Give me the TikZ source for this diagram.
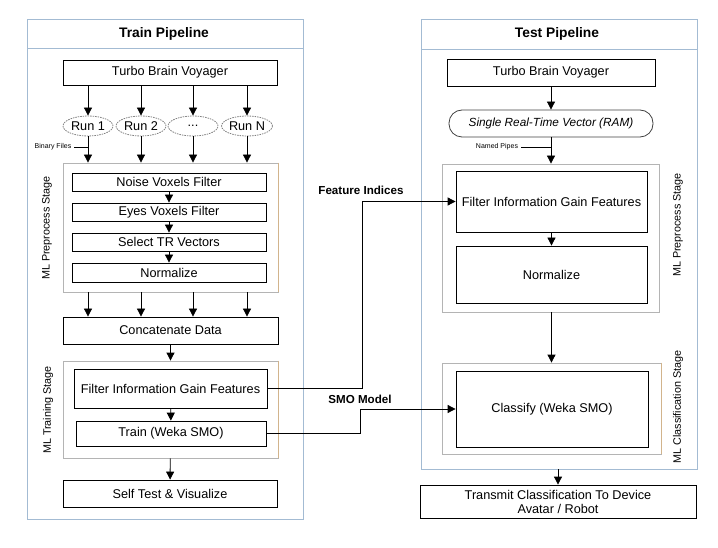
\documentclass[tikz,border=0pt]{standalone}
\usepackage{fontspec}
\setmainfont{Liberation Sans}
\usetikzlibrary{positioning,arrows.meta,shapes.geometric}
\definecolor{panelc}{HTML}{A3BBD3}
\definecolor{stagec}{HTML}{B4B4B4}
\definecolor{tanc}{HTML}{D2B48C}

\begin{document}
\begin{tikzpicture}[x=1pt,y=-1pt,
  panel/.style={draw=panelc,line width=0.8pt,minimum width=276pt,inner sep=0pt},
  stage/.style={draw=stagec,line width=0.8pt,inner sep=0pt},
  box/.style={draw,line width=0.8pt,inner sep=0pt,align=center,font=\fontsize{12.7}{14}\selectfont},
  run/.style={ellipse,draw=gray,dash pattern=on 1.5pt off 1pt,line width=0.8pt,minimum width=50pt,minimum height=20pt,inner sep=0pt,font=\fontsize{12.7}{14}\selectfont},
  title/.style={font=\bfseries\fontsize{13.8}{15}\selectfont},
  lbl/.style={font=\bfseries\fontsize{11.6}{13}\selectfont},
  tiny/.style={font=\fontsize{7}{8}\selectfont,inner sep=1pt},
  stlbl/.style={rotate=90,font=\fontsize{10.8}{12}\selectfont},
  arr/.style={-{Triangle[width=8pt,length=8pt]},line width=0.8pt}]
  \useasboundingbox (0,0) rectangle (718,548);
  % panels
  \node[panel,minimum height=500pt] (trainp) at (165,269) {};
  \node[panel,minimum height=450pt] (testp) at (559,244) {};
  \draw[panelc,line width=0.8pt] (27,48) -- (303,48);
  \draw[panelc,line width=0.8pt] (421,49) -- (697,49);
  \node[title] (traint) at (164,34) {Train Pipeline};
  \node[title] (testt) at (557,34) {Test Pipeline};
  % train pipeline
  \node[box,minimum width=214pt,minimum height=25pt] (tbv) at (170,72.5) {Turbo Brain Voyager};
  \node[run] (run1) at (88,126) {Run 1};
  \node[run] (run2) at (141,126) {Run 2};
  \node[run] (run3) at (193,126) {...};
  \node[run] (run4) at (247,126) {Run N};
  \node[stage,minimum width=215pt,minimum height=129pt] (prep) at (170.5,227.5) {};
  \draw[tanc,line width=0.8pt] (prep.north east) -- (prep.south east);
  \node[box,minimum width=194pt,minimum height=18pt] (noise) at (169,182) {Noise Voxels Filter};
  \node[box,minimum width=194pt,minimum height=18pt] (eyes) at (169,212) {Eyes Voxels Filter};
  \node[box,minimum width=194pt,minimum height=18pt] (sel) at (169,242) {Select TR Vectors};
  \node[box,minimum width=194pt,minimum height=19pt] (norm) at (169,272.5) {Normalize};
  \node[stlbl] (prepl) at (47,228) {ML Preprocess Stage};
  \node[box,minimum width=215pt,minimum height=27pt] (concat) at (170.5,330.5) {Concatenate Data};
  \node[stage,minimum width=215pt,minimum height=97pt] (trainst) at (170.5,409.5) {};
  \draw[tanc,line width=0.8pt] (trainst.north east) -- (trainst.south east);
  \node[box,minimum width=193pt,minimum height=39pt] (filt) at (170.5,388.5) {Filter Information Gain Features};
  \node[box,minimum width=190pt,minimum height=25pt] (train) at (171,433.5) {Train (Weka SMO)};
  \node[stlbl] (trainl) at (48,410) {ML Training Stage};
  \node[box,minimum width=214pt,minimum height=27pt] (self) at (170,493.5) {Self Test \& Visualize};
  \node[tiny] (binf) at (53,147) {Binary Files};
  \draw[line width=0.6pt] (binf.east) ++(2pt,0) -- (binf.east -| run1);
  \foreach \r in {run1,run2,run3,run4}{
    \draw[arr] (\r |- tbv.south) -- (\r);
    \draw[arr] (\r) -- (\r |- prep.north);
    \draw[arr] (\r |- prep.south) -- (\r |- concat.north);
  }
  \draw[arr] (noise) -- (eyes);
  \draw[arr] (eyes) -- (sel);
  \draw[arr] (sel) -- (norm);
  \draw[arr] (concat) -- (trainst);
  \draw[arr] (filt) -- (train);
  \draw[arr] (trainst) -- (self);
  % test pipeline
  \node[box,minimum width=208pt,minimum height=27pt] (ttbv) at (551,72.5) {Turbo Brain Voyager};
  \node[box,draw=black!75,rounded corners=13pt,minimum width=204pt,minimum height=27pt,font=\itshape\fontsize{11.8}{13}\selectfont] (rtv) at (551,123.5) {Single Real-Time Vector (RAM)};
  \node[stage,minimum width=217pt,minimum height=148pt] (tprep) at (550.5,238) {};
  \node[box,minimum width=191pt,minimum height=61pt] (tfilt) at (551.5,201.5) {Filter Information Gain Features};
  \node[box,minimum width=191pt,minimum height=57pt] (tnorm) at (551.5,274.5) {Normalize};
  \node[stlbl] (tprepl) at (678,225) {ML Preprocess Stage};
  \node[stage,minimum width=219pt,minimum height=91pt] (cls) at (551.5,408.5) {};
  \draw[tanc,line width=0.8pt] (cls.north east) -- (cls.south east);
  \node[box,minimum width=192pt,minimum height=76pt] (classify) at (552,409) {Classify (Weka SMO)};
  \node[stlbl] (clsl) at (678,407) {ML Classification Stage};
  \node[box,minimum width=276pt,minimum height=33pt,font=\fontsize{12.7}{14}\selectfont] (transmit) at (558,501.5) {Transmit Classification To Device\\Avatar / Robot};
  \node[tiny] (npipe) at (497,147) {Named Pipes};
  \draw[line width=0.6pt] (npipe.east) ++(2pt,0) -- (npipe.east -| rtv);
  \draw[arr] (ttbv) -- (rtv);
  \draw[arr] (rtv) -- (rtv |- tprep.north);
  \draw[arr] (tfilt) -- (tnorm);
  \draw[arr] (tprep.south -| tnorm) -- (cls.north -| tnorm);
  \draw[arr] (transmit.north |- testp.south) -- (transmit.north);
  % links between pipelines
  \draw[arr] (filt.east) -- ++(95,0) |- (tfilt.west);
  \draw[arr] (train.east) -- ++(94,0) |- (classify.west);
  \node[lbl] (fidx) at (361,190) {Feature Indices};
  \node[lbl] (smo) at (360,399) {SMO Model};
\end{tikzpicture}
\end{document}
